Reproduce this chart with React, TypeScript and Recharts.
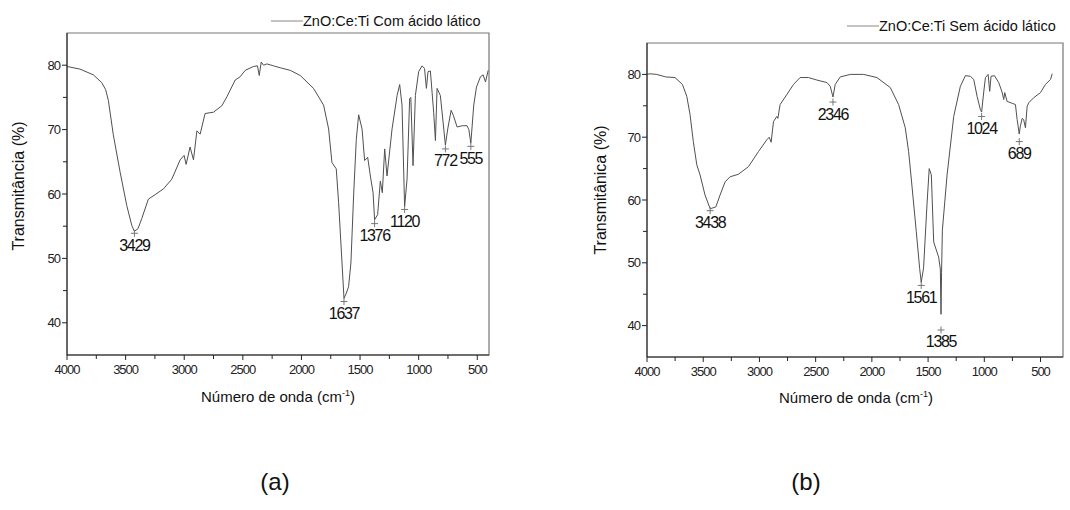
import { ComposedChart, Line, Scatter, XAxis, YAxis, ReferenceArea } from 'recharts';

// espectro (a) - ZnO:Ce:Ti com ácido lático
const waveA = [4000, 3890, 3775, 3704, 3670, 3647, 3605, 3547, 3490, 3447, 3425, 3395, 3362, 3306, 3248, 3177, 3106, 3035, 3001, 2984, 2950, 2921, 2892, 2864, 2822, 2751, 2679, 2636, 2565, 2523, 2480, 2409, 2375, 2360, 2343, 2324, 2295, 2238, 2181, 2096, 2010, 1897, 1811, 1768, 1740, 1703, 1683, 1654, 1637, 1617, 1598, 1578, 1555, 1532, 1512, 1483, 1461, 1435, 1412, 1389, 1376, 1350, 1327, 1310, 1290, 1270, 1227, 1184, 1162, 1142, 1120, 1099, 1077, 1067, 1048, 1028, 1000, 971, 950, 934, 920, 900, 872, 857, 843, 815, 792, 772, 752, 723, 704, 672, 629, 587, 572, 555, 530, 507, 473, 450, 430, 407];
const transA = [79.8, 79.4, 78.5, 77.3, 76.2, 74.5, 69.2, 63.4, 58.2, 55.1, 54.2, 54.6, 56.2, 59.2, 59.9, 60.8, 62.3, 65.3, 66.0, 64.6, 67.3, 65.3, 69.8, 69.3, 72.5, 72.7, 73.7, 75.1, 77.7, 78.2, 79.2, 79.8, 79.9, 78.4, 80.5, 80.0, 80.2, 79.9, 79.6, 79.2, 78.4, 76.4, 73.8, 70.1, 64.9, 63.9, 58.7, 49.3, 43.8, 44.6, 45.6, 49.3, 59.7, 68.5, 72.3, 70.1, 65.2, 65.7, 62.8, 60.2, 56.0, 56.8, 62.0, 60.2, 67.0, 62.8, 70.1, 75.3, 77.0, 73.8, 58.0, 62.3, 74.8, 75.0, 64.4, 75.3, 79.0, 79.9, 79.5, 76.4, 79.0, 79.1, 72.7, 68.3, 76.4, 75.3, 71.2, 67.6, 70.1, 73.0, 72.2, 70.4, 70.6, 70.6, 70.0, 67.9, 73.8, 76.6, 78.2, 78.5, 77.4, 79.2];
const peakWaveA = [3425, 1637, 1376, 1120, 772, 555];
const peakTransA = [53.9, 43.3, 55.4, 57.6, 67.0, 67.4];
const peakLabelA = ['3429', '1637', '1376', '1120', '772', '555'];

// espectro (b) - ZnO:Ce:Ti sem ácido lático
const waveB = [4000, 3973, 3914, 3834, 3751, 3685, 3646, 3617, 3588, 3557, 3528, 3484, 3438, 3388, 3350, 3305, 3261, 3187, 3098, 3009, 2934, 2913, 2896, 2875, 2845, 2836, 2816, 2756, 2697, 2638, 2564, 2489, 2400, 2370, 2346, 2326, 2281, 2192, 2074, 1955, 1836, 1762, 1703, 1673, 1650, 1605, 1575, 1561, 1540, 1509, 1490, 1471, 1450, 1406, 1391, 1385, 1380, 1373, 1331, 1272, 1213, 1168, 1124, 1094, 1064, 1035, 1024, 1005, 990, 966, 952, 940, 910, 872, 842, 827, 818, 797, 752, 723, 708, 689, 680, 663, 650, 634, 619, 604, 560, 500, 456, 411, 396];
const transB = [80.0, 80.1, 80.0, 79.6, 79.5, 78.4, 76.5, 73.6, 69.3, 65.6, 64.0, 60.8, 58.6, 58.9, 60.8, 62.9, 63.7, 64.1, 65.3, 67.7, 69.6, 70.0, 69.2, 72.5, 73.3, 73.0, 75.2, 76.8, 78.4, 79.5, 79.5, 79.1, 78.7, 78.1, 76.4, 78.4, 79.6, 80.0, 80.0, 79.5, 77.9, 75.2, 71.5, 67.7, 63.5, 55.0, 49.1, 46.9, 49.2, 59.5, 65.0, 64.0, 53.3, 50.9, 49.0, 41.8, 48.5, 55.2, 64.0, 73.3, 78.1, 79.8, 79.7, 79.2, 76.5, 74.4, 74.0, 77.2, 79.5, 80.0, 77.3, 79.7, 79.8, 78.7, 77.2, 76.0, 77.1, 75.7, 75.4, 75.2, 72.8, 70.5, 71.7, 73.0, 72.8, 71.5, 74.9, 75.5, 76.3, 77.1, 78.4, 79.2, 80.1];
const peakWaveB = [3438, 2346, 1561, 1385, 1024, 689];
const peakTransB = [58.3, 75.6, 46.4, 39.3, 73.3, 69.3];
const peakLabelB = ['3438', '2346', '1561', '1385', '1024', '689'];

const xTicks = [4000, 3750, 3500, 3250, 3000, 2750, 2500, 2250, 2000, 1750, 1500, 1250, 1000, 750, 500];
const yTicks = [40, 45, 50, 55, 60, 65, 70, 75, 80];

const FONT = '"Liberation Sans", Arial, sans-serif';

const XTick = (props: any) => {
    const { x, y, payload } = props;
    const major = payload.value % 500 === 0;
    return (
        <g>
            <line x1={x} x2={x} y1={y} y2={y + (major ? 5 : 4)} stroke="#222" />
            {major && (
                <text x={x} y={y + 19} textAnchor="middle" fontSize={13} letterSpacing={-1} fill="#222" fontFamily={FONT}>
                    {payload.value}
                </text>
            )}
        </g>
    );
};

const YTick = (props: any) => {
    const { x, y, payload } = props;
    const major = payload.value % 10 === 0;
    return (
        <g>
            <line x1={x - (major ? 5 : 4)} x2={x} y1={y} y2={y} stroke="#222" />
            {major && (
                <text x={x - 7} y={y + 4.5} textAnchor="end" fontSize={13} letterSpacing={-1} fill="#222" fontFamily={FONT}>
                    {payload.value}
                </text>
            )}
        </g>
    );
};

const PeakMark = (props: any) => {
    const { cx, cy, payload } = props;
    return (
        <g>
            <line x1={cx - 3.5} x2={cx + 3.5} y1={cy} y2={cy} stroke="#777" />
            <line x1={cx} x2={cx} y1={cy - 3.5} y2={cy + 3.5} stroke="#777" />
            <text x={cx} y={cy + 17.5} textAnchor="middle" fontSize={16} letterSpacing={-1.3} fill="#111" fontFamily={FONT}>
                {payload.label}
            </text>
        </g>
    );
};

function Spectrum({ waves, trans, peakWaves, peakTrans, peakLabels, xMin, margin }: any) {
    const curve = waves.map((w: number, i: number) => ({ w, t: trans[i] }));
    const peaks = peakWaves.map((w: number, i: number) => ({ w, t: peakTrans[i], label: peakLabels[i] }));
    return (
        <ComposedChart width={535} height={420} margin={margin}>
            <XAxis
                type="number"
                dataKey="w"
                domain={[xMin, 4000]}
                reversed
                allowDataOverflow
                ticks={xTicks}
                interval={0}
                tick={<XTick />}
                tickLine={false}
                tickSize={0}
                tickMargin={0}
                height={30}
                axisLine={{ stroke: '#222' }}
            />
            <YAxis
                type="number"
                domain={[35, 85]}
                allowDataOverflow
                ticks={yTicks}
                interval={0}
                tick={<YTick />}
                tickLine={false}
                tickSize={0}
                tickMargin={0}
                width={40}
                axisLine={{ stroke: '#222' }}
            />
            <ReferenceArea x1={xMin} x2={4000} y1={35} y2={85} fill="none" stroke="#777" strokeWidth={1.2} ifOverflow="visible" />
            <Line data={curve} dataKey="t" type="linear" stroke="#505050" strokeWidth={1} dot={false} isAnimationActive={false} />
            <Scatter data={peaks} dataKey="t" shape={<PeakMark />} isAnimationActive={false} />
        </ComposedChart>
    );
}

function LegendItem({ left, top, text }: { left: number; top: number; text: string }) {
    return (
        <div style={{ position: 'absolute', left, top, display: 'flex', alignItems: 'center', fontFamily: FONT, fontSize: 14.5, color: '#111', whiteSpace: 'nowrap', height: 18 }}>
            <svg width={32} height={18}>
                <line x1={0} x2={32} y1={9} y2={9} stroke="#888" strokeWidth={1} />
            </svg>
            <span>{text}</span>
        </div>
    );
}

const titleStyle: React.CSSProperties = { position: 'absolute', fontFamily: FONT, fontSize: 15, color: '#111', whiteSpace: 'nowrap' };

function AxisTitleX({ cx, cy }: { cx: number; cy: number }) {
    return (
        <div style={{ ...titleStyle, left: cx, top: cy, transform: 'translate(-50%, -50%)' }}>
            Número de onda (cm<sup style={{ fontSize: 9 }}>-1</sup>)
        </div>
    );
}

function AxisTitleY({ cx, cy, text }: { cx: number; cy: number; text: string }) {
    return (
        <div style={{ ...titleStyle, fontSize: 16, left: cx, top: cy, transform: 'translate(-50%, -50%) rotate(-90deg)' }}>
            {text}
        </div>
    );
}

export default function App() {
    return (
        <div style={{ position: 'absolute', left: 0, top: 0, width: 1070, height: 510, background: '#fff', overflow: 'hidden' }}>
            <div style={{ position: 'absolute', left: 0, top: 0 }}>
                <Spectrum
                    waves={waveA}
                    trans={transA}
                    peakWaves={peakWaveA}
                    peakTrans={peakTransA}
                    peakLabels={peakLabelA}
                    xMin={400}
                    margin={{ top: 33, right: 46, bottom: 35, left: 27 }}
                />
            </div>
            <div style={{ position: 'absolute', left: 535, top: 0 }}>
                <Spectrum
                    waves={waveB}
                    trans={transB}
                    peakWaves={peakWaveB}
                    peakTrans={peakTransB}
                    peakLabels={peakLabelB}
                    xMin={300}
                    margin={{ top: 43, right: 7, bottom: 33, left: 72 }}
                />
            </div>

            <LegendItem left={271} top={12} text="ZnO:Ce:Ti Com ácido lático" />
            <LegendItem left={847} top={17} text="ZnO:Ce:Ti Sem ácido lático" />

            <AxisTitleY cx={19} cy={186} text="Transmitância (%)" />
            <AxisTitleY cx={601} cy={190} text="Transmitânica (%)" />
            <AxisTitleX cx={278} cy={396} />
            <AxisTitleX cx={856} cy={397} />

            <div style={{ ...titleStyle, fontSize: 24, left: 275, top: 482, transform: 'translate(-50%, -50%)' }}>(a)</div>
            <div style={{ ...titleStyle, fontSize: 24, left: 806, top: 482, transform: 'translate(-50%, -50%)' }}>(b)</div>
        </div>
    );
}
